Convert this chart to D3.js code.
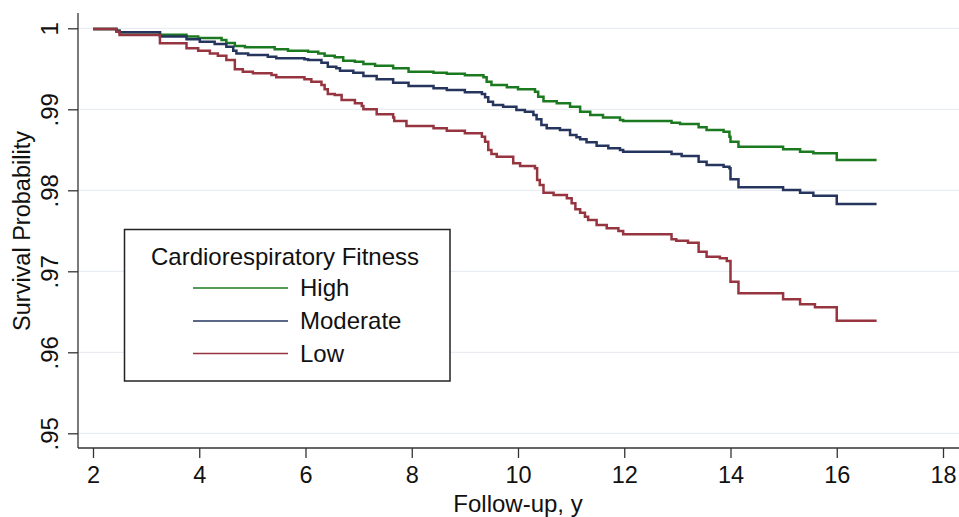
<!DOCTYPE html>
<html>
<head>
<meta charset="utf-8">
<script src="https://cdn.jsdelivr.net/npm/d3@7"></script>
<style>
    body { margin: 0; background: #fff; }
    text { font-family: "Liberation Sans", Arial, Helvetica, sans-serif; fill: #111; }
</style>
</head>
<body>
<div id="mainChart"></div>
<script>
// Kaplan-Meier steps: [follow-up years, survival]
const highData = [
    [2, 0.9999], [2.44, 0.9997], [2.5, 0.9995], [3.26, 0.9992], [3.76, 0.999], [3.98, 0.9988],
    [4.42, 0.99856], [4.51, 0.9982], [4.67, 0.9978], [4.86, 0.99765], [5.42, 0.9974], [5.67, 0.99723],
    [6.05, 0.9971], [6.24, 0.9969], [6.36, 0.99662], [6.55, 0.99642], [6.71, 0.996], [6.93, 0.99588],
    [7.09, 0.9956], [7.31, 0.99538], [7.65, 0.99506], [7.94, 0.99464], [8.41, 0.99452], [8.66, 0.9944],
    [9.0, 0.9942], [9.35, 0.99395], [9.41, 0.9934], [9.5, 0.993], [9.79, 0.99271], [10.0, 0.99247],
    [10.32, 0.99217], [10.38, 0.99156], [10.48, 0.991], [10.73, 0.99074], [10.98, 0.99032], [11.17, 0.9897],
    [11.36, 0.9893], [11.6, 0.989], [11.92, 0.98868], [11.98, 0.98856], [12.89, 0.98835], [13.05, 0.9882],
    [13.4, 0.98778], [13.55, 0.98744], [13.87, 0.98724], [13.98, 0.98662], [14.0, 0.986], [14.15, 0.98538],
    [14.99, 0.98506], [15.31, 0.98477], [15.56, 0.98457], [16.0, 0.98374], [16.75, 0.98374]
];

const moderateData = [
    [2, 0.9999], [2.44, 0.9997], [2.5, 0.9995], [3.26, 0.999], [3.76, 0.99864], [4.01, 0.99835],
    [4.29, 0.99806], [4.51, 0.99773], [4.64, 0.99723], [4.7, 0.9969], [4.92, 0.9967], [5.29, 0.9965],
    [5.45, 0.9963], [5.98, 0.99617], [6.05, 0.9961], [6.3, 0.99575], [6.42, 0.99526], [6.58, 0.99506],
    [6.65, 0.99477], [6.9, 0.99452], [7.09, 0.99411], [7.34, 0.9937], [7.65, 0.99328], [7.94, 0.99288],
    [8.41, 0.9926], [8.66, 0.99238], [9.0, 0.9921], [9.32, 0.99189], [9.38, 0.99148], [9.44, 0.99094],
    [9.53, 0.99053], [9.72, 0.99032], [9.97, 0.98991], [10.13, 0.9897], [10.29, 0.9893], [10.35, 0.98877],
    [10.44, 0.98806], [10.54, 0.98765], [10.79, 0.98744], [10.98, 0.98683], [11.1, 0.98654], [11.17, 0.9863],
    [11.29, 0.98593], [11.48, 0.98551], [11.7, 0.98519], [11.92, 0.98498], [11.98, 0.98477], [12.89, 0.98448],
    [13.08, 0.98424], [13.4, 0.98353], [13.55, 0.98312], [13.87, 0.98292], [13.98, 0.98272], [14.0, 0.98136],
    [14.15, 0.98037], [14.99, 0.98004], [15.31, 0.9797], [15.56, 0.97933], [16.0, 0.97831], [16.75, 0.97831]
];

const lowData = [
    [2, 0.9999], [2.44, 0.99958], [2.5, 0.99917], [3.26, 0.99815], [3.76, 0.99753], [3.98, 0.99723],
    [4.2, 0.9969], [4.35, 0.99662], [4.51, 0.9961], [4.67, 0.99494], [4.82, 0.99464], [5.01, 0.99444],
    [5.36, 0.99423], [5.45, 0.99395], [5.98, 0.9937], [6.11, 0.99341], [6.3, 0.993], [6.36, 0.99247],
    [6.42, 0.99189], [6.55, 0.99177], [6.68, 0.99115], [6.93, 0.99074], [7.06, 0.9904], [7.09, 0.99],
    [7.34, 0.98938], [7.65, 0.989], [7.67, 0.98856], [7.9, 0.98794], [8.41, 0.98765], [8.66, 0.98736],
    [9.0, 0.98704], [9.32, 0.98662], [9.38, 0.986], [9.44, 0.98498], [9.5, 0.98448], [9.6, 0.98415],
    [9.91, 0.98333], [10.04, 0.983], [10.32, 0.98272], [10.36, 0.98127], [10.41, 0.98065], [10.48, 0.9797],
    [10.67, 0.97942], [10.92, 0.97901], [11.01, 0.9784], [11.08, 0.97766], [11.17, 0.97724], [11.26, 0.97674],
    [11.32, 0.97633], [11.48, 0.97572], [11.67, 0.97531], [11.89, 0.97498], [11.98, 0.97457], [12.89, 0.97395],
    [12.98, 0.97378], [13.2, 0.97353], [13.4, 0.97242], [13.55, 0.9718], [13.8, 0.9716], [13.93, 0.97127],
    [14.0, 0.96872], [14.15, 0.96728], [14.99, 0.96654], [15.31, 0.96593], [15.59, 0.96556], [16.0, 0.9639],
    [16.75, 0.9639]
];

const groupNames = ['High', 'Moderate', 'Low'];
const groupColors = ['#1b7a1f', '#25355e', '#963440'];
const xTicks = [2, 4, 6, 8, 10, 12, 14, 16, 18];
const yTicks = [0.95, 0.96, 0.97, 0.98, 0.99, 1];
const yTickLabels = ['.95', '.96', '.97', '.98', '.99', '1'];

const width = 959;
const height = 517;

const svg = d3.select('#mainChart').append('svg')
    .attr('width', width)
    .attr('height', height);

const x = d3.scaleLinear().domain([2, 18]).range([93, 943]);
const y = d3.scaleLinear().domain([0.95, 1]).range([433.3, 28.3]);

const axisX0 = 78;
const axisY0 = 448;

// grid lines
svg.append('g')
    .selectAll('line')
    .data(yTicks)
    .join('line')
    .attr('x1', axisX0)
    .attr('x2', width)
    .attr('y1', d => y(d))
    .attr('y2', d => y(d))
    .attr('stroke', '#e9edf2')
    .attr('stroke-width', 1.3);

// y axis
const yAxis = svg.append('g')
    .attr('transform', `translate(${axisX0},0)`)
    .call(d3.axisLeft(y).tickValues(yTicks).tickSize(10).tickSizeOuter(0)
        .tickFormat((d, i) => yTickLabels[i]));
yAxis.select('.domain').remove();
yAxis.append('line')
    .attr('x1', 0).attr('x2', 0)
    .attr('y1', 13).attr('y2', axisY0)
    .attr('stroke', '#333').attr('stroke-width', 1.3);
yAxis.selectAll('.tick line').attr('stroke', '#333').attr('stroke-width', 1.3);
yAxis.selectAll('.tick text')
    .attr('font-size', 24)
    .attr('fill', '#111')
    .attr('text-anchor', 'middle')
    .attr('x', null).attr('dy', null)
    .attr('transform', 'translate(-20,0) rotate(-90)');

// x axis
const xAxis = svg.append('g')
    .attr('transform', `translate(0,${axisY0})`)
    .call(d3.axisBottom(x).tickValues(xTicks).tickSize(10).tickSizeOuter(0));
xAxis.select('.domain').remove();
xAxis.append('line')
    .attr('x1', axisX0).attr('x2', width)
    .attr('y1', 0).attr('y2', 0)
    .attr('stroke', '#333').attr('stroke-width', 1.3);
xAxis.selectAll('.tick line').attr('stroke', '#333').attr('stroke-width', 1.3);
xAxis.selectAll('.tick text')
    .attr('font-size', 23.5)
    .attr('fill', '#111')
    .attr('y', 35).attr('dy', null);

// axis titles
svg.append('text')
    .attr('x', 518)
    .attr('y', 512)
    .attr('text-anchor', 'middle')
    .attr('font-size', 24)
    .text('Follow-up, y');

svg.append('text')
    .attr('transform', 'translate(30,231) rotate(-90)')
    .attr('text-anchor', 'middle')
    .attr('font-size', 23.5)
    .text('Survival Probability');

// survival curves
const line = d3.line()
    .curve(d3.curveStepAfter)
    .x(d => x(d[0]))
    .y(d => y(d[1]));

[highData, moderateData, lowData].forEach((data, i) => {
    svg.append('path')
        .datum(data)
        .attr('fill', 'none')
        .attr('stroke', groupColors[i])
        .attr('stroke-width', 2.5)
        .attr('d', line);
});

// legend
const legend = svg.append('g');
legend.append('rect')
    .attr('x', 124.5).attr('y', 229.5)
    .attr('width', 325.5).attr('height', 151.5)
    .attr('fill', '#fff')
    .attr('stroke', '#222')
    .attr('stroke-width', 1.5);
legend.append('text')
    .attr('x', 285).attr('y', 265)
    .attr('text-anchor', 'middle')
    .attr('font-size', 24)
    .text('Cardiorespiratory Fitness');

const legendRowY = [288, 321, 353.5];
groupNames.forEach((name, i) => {
    legend.append('line')
        .attr('x1', 193).attr('x2', 288)
        .attr('y1', legendRowY[i]).attr('y2', legendRowY[i])
        .attr('stroke', groupColors[i])
        .attr('stroke-width', 1.6);
    legend.append('text')
        .attr('x', 300).attr('y', legendRowY[i] + 8)
        .attr('font-size', 24)
        .text(name);
});
</script>
</body>
</html>
